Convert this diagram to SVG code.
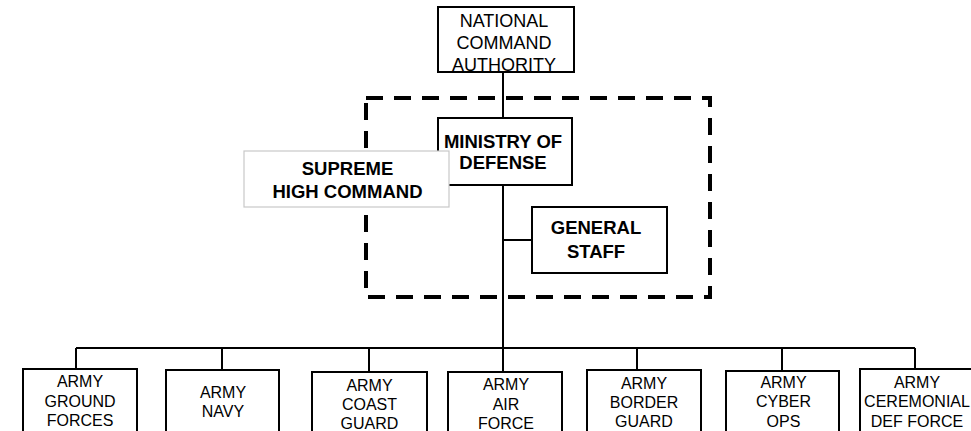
<svg xmlns="http://www.w3.org/2000/svg" width="971" height="431" viewBox="0 0 971 431">
<style>
.box{fill:#fff;stroke:#000;stroke-width:2}
.lite{fill:#fff;stroke:#c8c8c8;stroke-width:1.2}
.t{font-family:"Liberation Sans",Arial,sans-serif;font-size:16px;text-anchor:middle;fill:#000}
.tn{font-family:"Liberation Sans",Arial,sans-serif;font-size:18px;text-anchor:middle;fill:#000}
.b{font-family:"Liberation Sans",Arial,sans-serif;font-size:18.5px;font-weight:bold;text-anchor:middle;fill:#000}
.ln{stroke:#000;stroke-width:2;fill:none}
</style>
<rect width="971" height="431" fill="#fff"/>
<g id="dashed-boundary">
<rect x="366" y="98" width="344" height="199" fill="none" stroke="#000" stroke-width="4" stroke-dasharray="17 11"/>
</g>
<g id="connectors">
<line class="ln" x1="503" y1="72" x2="503" y2="372"/>
<line class="ln" x1="503" y1="240" x2="532" y2="240"/>
<line class="ln" x1="76" y1="348" x2="915" y2="348"/>
<line class="ln" x1="76" y1="348" x2="76" y2="369"/>
<line class="ln" x1="222" y1="348" x2="222" y2="370"/>
<line class="ln" x1="369" y1="348" x2="369" y2="372"/>
<line class="ln" x1="637" y1="348" x2="637" y2="370"/>
<line class="ln" x1="782" y1="348" x2="782" y2="371"/>
<line class="ln" x1="915" y1="348" x2="915" y2="369"/>
</g>
<g id="nca">
<rect class="box" x="438" y="7" width="136" height="65"/>
<text class="tn" x="504" y="27">NATIONAL</text>
<text class="tn" x="504" y="49">COMMAND</text>
<text class="tn" x="504" y="71">AUTHORITY</text>
</g>
<g id="mod">
<rect class="box" x="438" y="118" width="134" height="67"/>
<text class="b" x="503" y="147.5">MINISTRY OF</text>
<text class="b" x="503" y="169">DEFENSE</text>
</g>
<g id="supreme">
<rect class="lite" x="244" y="151" width="205" height="56"/>
<text class="b" x="347.5" y="175">SUPREME</text>
<text class="b" x="347.5" y="197.5">HIGH COMMAND</text>
</g>
<g id="general-staff">
<rect class="box" x="532" y="207" width="135" height="66"/>
<text class="b" x="596" y="234">GENERAL</text>
<text class="b" x="596" y="257.5">STAFF</text>
</g>
<g id="ground">
<rect class="box" x="23" y="369" width="114" height="70"/>
<text class="t" x="80" y="387">ARMY</text>
<text class="t" x="80" y="406.5">GROUND</text>
<text class="t" x="80" y="426">FORCES</text>
</g>
<g id="navy">
<rect class="box" x="166" y="370" width="113" height="70"/>
<text class="t" x="223" y="397.5">ARMY</text>
<text class="t" x="223" y="416.5">NAVY</text>
</g>
<g id="coast">
<rect class="box" x="312" y="372" width="115" height="70"/>
<text class="t" x="369.5" y="391">ARMY</text>
<text class="t" x="369.5" y="410">COAST</text>
<text class="t" x="369.5" y="429">GUARD</text>
</g>
<g id="air">
<rect class="box" x="448" y="372" width="114" height="70"/>
<text class="t" x="506" y="390">ARMY</text>
<text class="t" x="506" y="410">AIR</text>
<text class="t" x="506" y="429">FORCE</text>
</g>
<g id="border">
<rect class="box" x="587" y="370" width="114" height="70"/>
<text class="t" x="644" y="388.5">ARMY</text>
<text class="t" x="644" y="407.5">BORDER</text>
<text class="t" x="644" y="427">GUARD</text>
</g>
<g id="cyber">
<rect class="box" x="726" y="371" width="113" height="70"/>
<text class="t" x="783.5" y="388">ARMY</text>
<text class="t" x="783.5" y="407">CYBER</text>
<text class="t" x="783.5" y="427">OPS</text>
</g>
<g id="ceremonial">
<rect class="box" x="860" y="369" width="120" height="70"/>
<text class="t" x="917" y="387.5">ARMY</text>
<text class="t" x="917" y="407">CEREMONIAL</text>
<text class="t" x="917" y="426.5">DEF FORCE</text>
</g>
</svg>
